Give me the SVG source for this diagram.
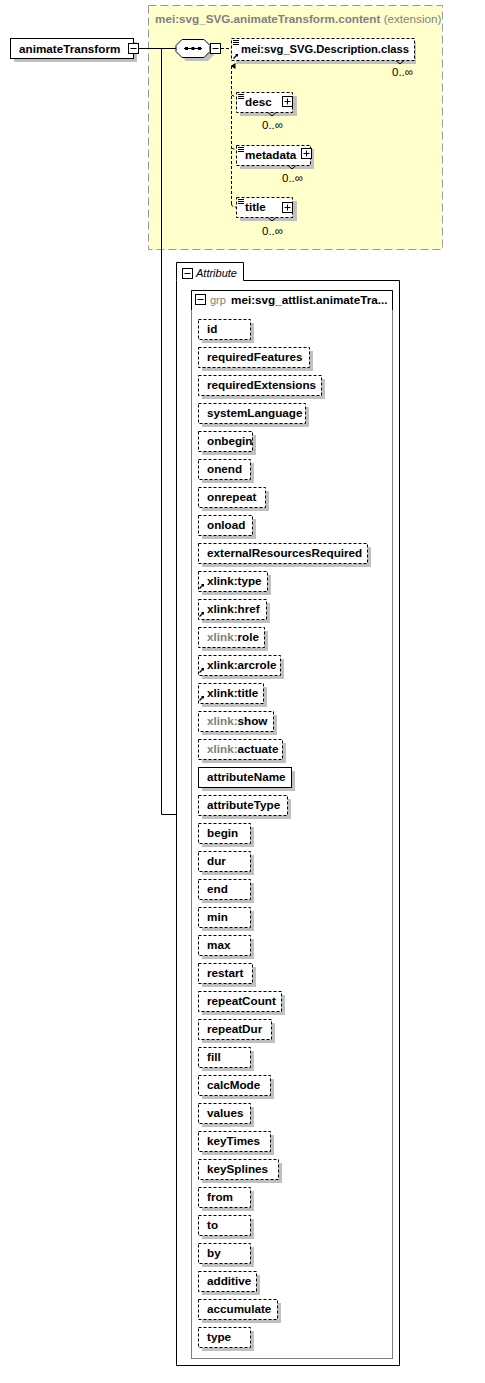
<svg xmlns="http://www.w3.org/2000/svg" width="485" height="1383" viewBox="0 0 485 1383">
<style>
text{font-family:"Liberation Sans",Arial,sans-serif;}
.b{font-weight:bold;font-size:11.7px;fill:#000;}
.g{fill:#808080;}
.occ{font-size:11.5px;fill:#000;}
.sh{fill:#C0C0C0;stroke:none;}
.opt{fill:#fff;stroke:#000;stroke-width:1;stroke-dasharray:3,2;}
.req{fill:#fff;stroke:#000;stroke-width:1;}
.ln{fill:none;stroke:#000;stroke-width:1;}
.dl{fill:none;stroke:#000;stroke-width:1;stroke-dasharray:3,2;}
.ic{fill:#fff;stroke:#000;stroke-width:1;}
</style>
<defs>
<marker id="up" markerWidth="6" markerHeight="6" refX="3" refY="1" orient="auto" markerUnits="userSpaceOnUse">
<path d="M0,5 L3,0 L6,5 Z" fill="#000"/>
</marker>
<g id="lines3"><path d="M0,0.5 H6 M0,2.5 H6 M0,4.5 H6" stroke="#000" stroke-width="1" fill="none"/></g>
<g id="refarrow"><path d="M0.5,5.5 L4.5,1.5" stroke="#000" stroke-width="1.2"/><path d="M2,1 L5,1 L5,4 Z" fill="#000"/></g>
</defs>

<rect x="0" y="0" width="485" height="1383" fill="#fff"/>

<!-- extension (yellow) box -->
<g id="extension">
<rect x="148.5" y="5.5" width="294" height="244" fill="#FFFFCC" stroke="#999" stroke-width="1" stroke-dasharray="8,4"/>
<text x="155" y="23" class="b g">mei:svg_SVG.animateTransform.content <tspan font-weight="normal">(extension)</tspan></text>
</g>

<!-- connectors -->
<g id="connectors">
<path class="ln" d="M138,48.5 H176"/>
<path class="ln" d="M161.5,48.5 V814.5 H177"/>
<path class="dl" d="M221,48.5 H231"/>
<path class="dl" d="M231.5,204 V66" marker-end="url(#up)"/>
<path class="dl" d="M231.5,204 Q231.5,207 236,207"/>
<path class="dl" d="M231.5,95 L236,97"/>
<path class="dl" d="M231.5,148 L236,150"/>
</g>

<!-- root element -->
<g id="animateTransform">
<rect class="sh" x="14" y="42" width="123" height="20"/>
<rect class="req" x="10.5" y="38.5" width="123" height="20"/>
<text x="19" y="53" class="b">animateTransform</text>
<rect class="ic" x="128.5" y="43.5" width="10" height="10"/>
<path class="ln" d="M130.5,48.5 H136.5"/>
</g>

<!-- sequence -->
<g id="sequence">
<path class="sh" d="M186,43 H208 L214,49 V55 L208,61 H186 L180,55 V49 Z"/>
<path d="M182,39.5 H204 L210,45.5 V51.5 L204,57.5 H182 L176,51.5 V45.5 Z" fill="#fff" stroke="#000"/>
<path class="ln" d="M184,48.5 H202"/>
<rect x="185" y="47" width="3" height="3" fill="#000"/>
<rect x="191.5" y="47" width="3" height="3" fill="#000"/>
<rect x="198" y="47" width="3" height="3" fill="#000"/>
<rect class="ic" x="210.5" y="43.5" width="10" height="10"/>
<path class="ln" d="M212.5,48.5 H218.5"/>
</g>

<!-- Description.class -->
<g id="descriptionClass">
<rect class="sh" x="236" y="42" width="180" height="22"/>
<rect class="opt" x="231.5" y="38.5" width="183" height="22"/>
<use href="#lines3" x="233" y="40"/>
<use href="#refarrow" x="233" y="53"/>
<path class="ln" d="M396,60.5 L400,64 L404,60.5"/>
<text x="241" y="53" class="b" textLength="168" lengthAdjust="spacingAndGlyphs">mei:svg_SVG.Description.class</text>
<text x="392" y="76" class="occ">0..∞</text>
</g>

<!-- desc -->
<g id="desc">
<rect class="sh" x="240" y="96" width="57" height="20"/>
<rect class="opt" x="236.5" y="92.5" width="56" height="20"/>
<use href="#lines3" x="238" y="94"/>
<path class="ln" d="M268,112.5 L272,116 L276,112.5"/>
<text x="245" y="106" class="b">desc</text>
<rect class="ic" x="282.5" y="96.5" width="10" height="10"/>
<path class="ln" d="M284.5,101.5 H290.5 M287.5,98.5 V104.5"/>
<text x="262" y="129" class="occ">0..∞</text>
</g>

<!-- metadata -->
<g id="metadata">
<rect class="sh" x="240" y="149" width="74" height="20"/>
<rect class="opt" x="236.5" y="145.5" width="74" height="20"/>
<use href="#lines3" x="238" y="147"/>
<path class="ln" d="M288,165.5 L292,169 L296,165.5"/>
<text x="245" y="159" class="b">metadata</text>
<rect class="ic" x="301.5" y="148.5" width="10" height="10"/>
<path class="ln" d="M303.5,153.5 H309.5 M306.5,150.5 V156.5"/>
<text x="282" y="182" class="occ">0..∞</text>
</g>

<!-- title -->
<g id="title">
<rect class="sh" x="240" y="201" width="57" height="20"/>
<rect class="opt" x="236.5" y="197.5" width="56" height="20"/>
<use href="#lines3" x="238" y="199"/>
<path class="ln" d="M268,217.5 L272,221 L276,217.5"/>
<text x="245" y="211" class="b">title</text>
<rect class="ic" x="282.5" y="202.5" width="10" height="10"/>
<path class="ln" d="M284.5,207.5 H290.5 M287.5,204.5 V210.5"/>
<text x="262" y="235" class="occ">0..∞</text>
</g>

<!-- Attribute container -->
<g id="attributes">
<path d="M176.5,280.5 V262.5 H243.5 V280.5 H399.5 V1365.5 H176.5 Z" fill="#fff" stroke="#000"/>
<rect class="ic" x="182.5" y="268.5" width="10" height="10"/>
<path class="ln" d="M184.5,273.5 H190.5"/>
<text x="196" y="277" font-size="11px" font-style="italic" fill="#000">Attribute</text>
<rect x="191.5" y="290.5" width="201" height="1068" fill="#fff" stroke="#808080"/>
<path class="ln" d="M191.5,310 V290.5 H392.5 V310"/>
<rect class="ic" x="195.5" y="294.5" width="10" height="10"/>
<path class="ln" d="M197.5,299.5 H203.5"/>
<text x="210" y="304" font-size="11px" fill="#808080">grp</text>
<text x="231" y="304" class="b">mei:svg_attlist.animateTra...</text>
</g>

<g id="attr-id"><rect class="sh" x="202" y="323" width="52" height="20"/><rect class="opt" x="198.5" y="319.5" width="52" height="20"/><text x="207" y="333" class="b">id</text></g>
<g id="attr-requiredFeatures"><rect class="sh" x="202" y="351" width="111" height="20"/><rect class="opt" x="198.5" y="347.5" width="111" height="20"/><text x="207" y="361" class="b">requiredFeatures</text></g>
<g id="attr-requiredExtensions"><rect class="sh" x="202" y="379" width="123" height="20"/><rect class="opt" x="198.5" y="375.5" width="123" height="20"/><text x="207" y="389" class="b">requiredExtensions</text></g>
<g id="attr-systemLanguage"><rect class="sh" x="202" y="407" width="107" height="20"/><rect class="opt" x="198.5" y="403.5" width="107" height="20"/><text x="207" y="417" class="b">systemLanguage</text></g>
<g id="attr-onbegin"><rect class="sh" x="202" y="435" width="54" height="20"/><rect class="opt" x="198.5" y="431.5" width="54" height="20"/><text x="207" y="445" class="b">onbegin</text></g>
<g id="attr-onend"><rect class="sh" x="202" y="463" width="52" height="20"/><rect class="opt" x="198.5" y="459.5" width="52" height="20"/><text x="207" y="473" class="b">onend</text></g>
<g id="attr-onrepeat"><rect class="sh" x="202" y="491" width="67" height="20"/><rect class="opt" x="198.5" y="487.5" width="67" height="20"/><text x="207" y="501" class="b">onrepeat</text></g>
<g id="attr-onload"><rect class="sh" x="202" y="519" width="54" height="20"/><rect class="opt" x="198.5" y="515.5" width="54" height="20"/><text x="207" y="529" class="b">onload</text></g>
<g id="attr-externalResourcesRequired"><rect class="sh" x="202" y="547" width="169" height="20"/><rect class="opt" x="198.5" y="543.5" width="169" height="20"/><text x="207" y="557" class="b">externalResourcesRequired</text></g>
<g id="attr-xlink-type"><rect class="sh" x="202" y="575" width="69" height="20"/><rect class="opt" x="198.5" y="571.5" width="69" height="20"/><use href="#refarrow" x="199" y="583"/><text x="207" y="585" class="b">xlink:type</text></g>
<g id="attr-xlink-href"><rect class="sh" x="202" y="603" width="68" height="20"/><rect class="opt" x="198.5" y="599.5" width="68" height="20"/><use href="#refarrow" x="199" y="611"/><text x="207" y="613" class="b">xlink:href</text></g>
<g id="attr-xlink-role"><rect class="sh" x="202" y="631" width="66" height="20"/><rect class="opt" x="198.5" y="627.5" width="66" height="20"/><text x="207" y="641" class="b"><tspan class="g">xlink:</tspan>role</text></g>
<g id="attr-xlink-arcrole"><rect class="sh" x="202" y="659" width="82" height="20"/><rect class="opt" x="198.5" y="655.5" width="82" height="20"/><use href="#refarrow" x="199" y="667"/><text x="207" y="669" class="b">xlink:arcrole</text></g>
<g id="attr-xlink-title"><rect class="sh" x="202" y="687" width="65" height="20"/><rect class="opt" x="198.5" y="683.5" width="65" height="20"/><use href="#refarrow" x="199" y="695"/><text x="207" y="697" class="b">xlink:title</text></g>
<g id="attr-xlink-show"><rect class="sh" x="202" y="715" width="75" height="20"/><rect class="opt" x="198.5" y="711.5" width="75" height="20"/><text x="207" y="725" class="b"><tspan class="g">xlink:</tspan>show</text></g>
<g id="attr-xlink-actuate"><rect class="sh" x="202" y="743" width="84" height="20"/><rect class="opt" x="198.5" y="739.5" width="84" height="20"/><text x="207" y="753" class="b"><tspan class="g">xlink:</tspan>actuate</text></g>
<g id="attr-attributeName"><rect class="sh" x="202" y="771" width="93" height="20"/><rect class="req" x="198.5" y="767.5" width="93" height="20"/><text x="207" y="781" class="b">attributeName</text></g>
<g id="attr-attributeType"><rect class="sh" x="202" y="799" width="89" height="20"/><rect class="opt" x="198.5" y="795.5" width="89" height="20"/><text x="207" y="809" class="b">attributeType</text></g>
<g id="attr-begin"><rect class="sh" x="202" y="827" width="52" height="20"/><rect class="opt" x="198.5" y="823.5" width="52" height="20"/><text x="207" y="837" class="b">begin</text></g>
<g id="attr-dur"><rect class="sh" x="202" y="855" width="52" height="20"/><rect class="opt" x="198.5" y="851.5" width="52" height="20"/><text x="207" y="865" class="b">dur</text></g>
<g id="attr-end"><rect class="sh" x="202" y="883" width="52" height="20"/><rect class="opt" x="198.5" y="879.5" width="52" height="20"/><text x="207" y="893" class="b">end</text></g>
<g id="attr-min"><rect class="sh" x="202" y="911" width="52" height="20"/><rect class="opt" x="198.5" y="907.5" width="52" height="20"/><text x="207" y="921" class="b">min</text></g>
<g id="attr-max"><rect class="sh" x="202" y="939" width="52" height="20"/><rect class="opt" x="198.5" y="935.5" width="52" height="20"/><text x="207" y="949" class="b">max</text></g>
<g id="attr-restart"><rect class="sh" x="202" y="967" width="54" height="20"/><rect class="opt" x="198.5" y="963.5" width="54" height="20"/><text x="207" y="977" class="b">restart</text></g>
<g id="attr-repeatCount"><rect class="sh" x="202" y="995" width="83" height="20"/><rect class="opt" x="198.5" y="991.5" width="83" height="20"/><text x="207" y="1005" class="b">repeatCount</text></g>
<g id="attr-repeatDur"><rect class="sh" x="202" y="1023" width="73" height="20"/><rect class="opt" x="198.5" y="1019.5" width="73" height="20"/><text x="207" y="1033" class="b">repeatDur</text></g>
<g id="attr-fill"><rect class="sh" x="202" y="1051" width="52" height="20"/><rect class="opt" x="198.5" y="1047.5" width="52" height="20"/><text x="207" y="1061" class="b">fill</text></g>
<g id="attr-calcMode"><rect class="sh" x="202" y="1079" width="72" height="20"/><rect class="opt" x="198.5" y="1075.5" width="72" height="20"/><text x="207" y="1089" class="b">calcMode</text></g>
<g id="attr-values"><rect class="sh" x="202" y="1107" width="52" height="20"/><rect class="opt" x="198.5" y="1103.5" width="52" height="20"/><text x="207" y="1117" class="b">values</text></g>
<g id="attr-keyTimes"><rect class="sh" x="202" y="1135" width="72" height="20"/><rect class="opt" x="198.5" y="1131.5" width="72" height="20"/><text x="207" y="1145" class="b">keyTimes</text></g>
<g id="attr-keySplines"><rect class="sh" x="202" y="1163" width="80" height="20"/><rect class="opt" x="198.5" y="1159.5" width="80" height="20"/><text x="207" y="1173" class="b">keySplines</text></g>
<g id="attr-from"><rect class="sh" x="202" y="1191" width="52" height="20"/><rect class="opt" x="198.5" y="1187.5" width="52" height="20"/><text x="207" y="1201" class="b">from</text></g>
<g id="attr-to"><rect class="sh" x="202" y="1219" width="52" height="20"/><rect class="opt" x="198.5" y="1215.5" width="52" height="20"/><text x="207" y="1229" class="b">to</text></g>
<g id="attr-by"><rect class="sh" x="202" y="1247" width="52" height="20"/><rect class="opt" x="198.5" y="1243.5" width="52" height="20"/><text x="207" y="1257" class="b">by</text></g>
<g id="attr-additive"><rect class="sh" x="202" y="1275" width="58" height="20"/><rect class="opt" x="198.5" y="1271.5" width="58" height="20"/><text x="207" y="1285" class="b">additive</text></g>
<g id="attr-accumulate"><rect class="sh" x="202" y="1303" width="79" height="20"/><rect class="opt" x="198.5" y="1299.5" width="79" height="20"/><text x="207" y="1313" class="b">accumulate</text></g>
<g id="attr-type"><rect class="sh" x="202" y="1331" width="52" height="20"/><rect class="opt" x="198.5" y="1327.5" width="52" height="20"/><text x="207" y="1341" class="b">type</text></g>
</svg>
